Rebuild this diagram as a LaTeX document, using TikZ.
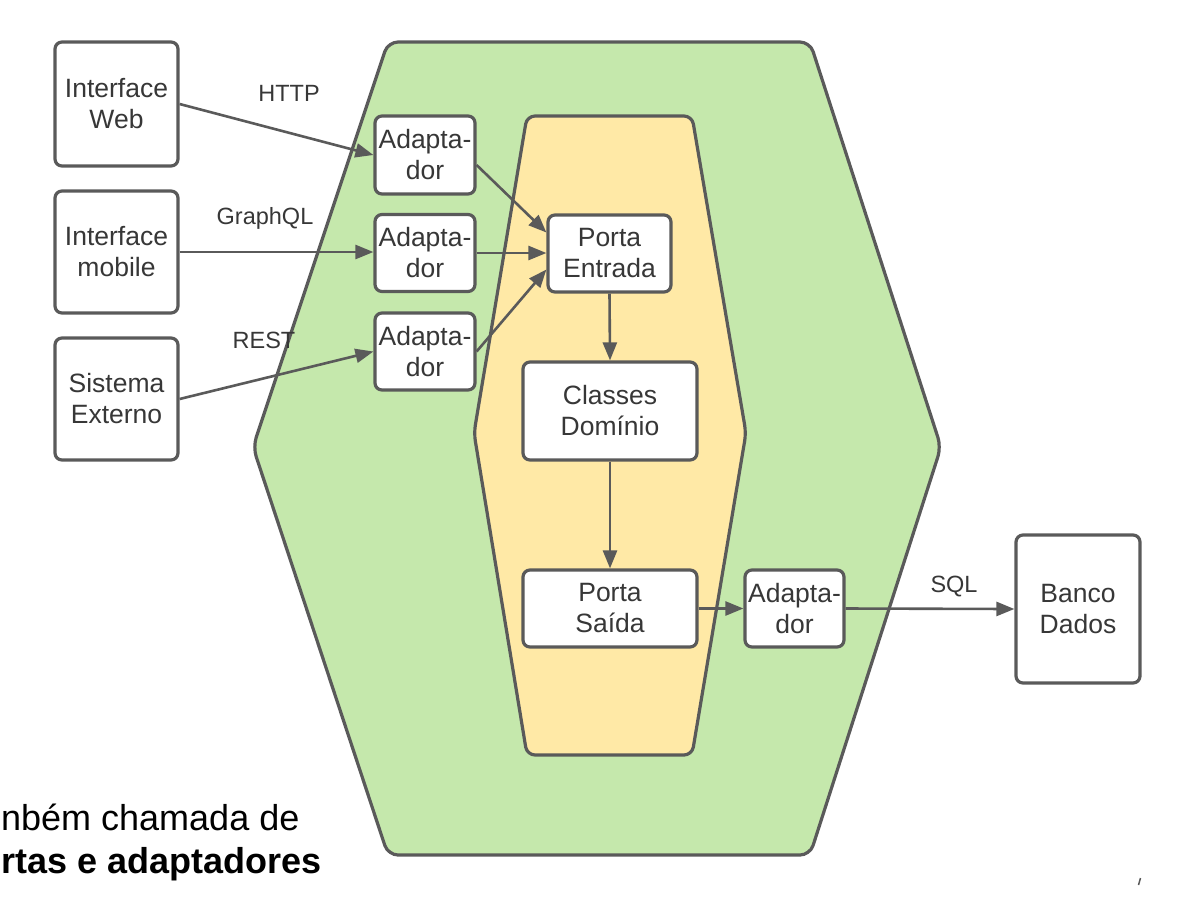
\documentclass[tikz,border=0pt]{standalone}
\usepackage{fontspec}
\setmainfont{Liberation Sans}
\usetikzlibrary{arrows.meta}
\definecolor{linec}{RGB}{90,90,90}
\definecolor{txtc}{RGB}{55,55,55}
\definecolor{greenf}{RGB}{197,232,172}
\definecolor{yellowf}{RGB}{255,233,166}
\begin{document}
\begin{tikzpicture}[x=1pt,y=-1pt,
  box/.style={draw=linec, line width=3.2pt, rounded corners=7pt, fill=white,
    align=center, text=txtc, inner sep=0pt,
    font=\fontsize{26.5}{31}\selectfont},
  conn/.style={draw=linec, line width=2.6pt,
    -{Triangle[length=18pt,width=14pt]}},
  lbl/.style={text=txtc, inner sep=0pt, font=\fontsize{23.5}{26}\selectfont},
  hexa/.style={draw=linec, line width=3.2pt, rounded corners=10pt}]
\useasboundingbox (0,0) rectangle (1177,911);

% outer (green) hexagon
\draw[hexa, fill=greenf] (388,42) -- (810,42) -- (941,447) -- (810,855)
  -- (388,855) -- (253,447) -- cycle;
% inner (yellow) hexagon
\draw[hexa, fill=yellowf, rounded corners=8pt] (527,116) -- (692,116) -- (746,433)
  -- (692,755) -- (527,755) -- (474,433) -- cycle;

% external systems
\node[box, minimum width=123pt, minimum height=124pt] (web) at (116.5,104) {Interface\\Web};
\node[box, minimum width=123pt, minimum height=122pt] (mob) at (116.5,252) {Interface\\mobile};
\node[box, minimum width=123pt, minimum height=122pt] (sys) at (116.5,399) {Sistema\\Externo};

% input adapters
\node[box, minimum width=100pt, minimum height=78pt] (ad1) at (425,155) {Adapta-\\dor};
\node[box, minimum width=100pt, minimum height=77pt] (ad2) at (425,253) {Adapta-\\dor};
\node[box, minimum width=100pt, minimum height=77pt] (ad3) at (425,351.5) {Adapta-\\dor};

% core
\node[box, minimum width=123pt, minimum height=77pt] (pe) at (609.5,253.5) {Porta\\Entrada};
\node[box, minimum width=174pt, minimum height=98pt] (cd) at (610,411) {Classes\\Domínio};
\node[box, minimum width=174pt, minimum height=77pt] (ps) at (610,608.5) {Porta\\Saída};

% output adapter and database
\node[box, minimum width=99pt, minimum height=77pt] (ad4) at (794.5,608.5) {Adapta-\\dor};
\node[box, minimum width=124pt, minimum height=148pt] (db) at (1078,609) {Banco\\Dados};

% protocol labels
\node[lbl] (lhttp) at (289,93) {HTTP};
\node[lbl] (lgql) at (265,218) {GraphQL};
\node[lbl] (lrest) at (264,340) {REST};
\node[lbl] (lsql) at (954,587) {SQL};

% connectors
\draw[conn] (web.east) -- (ad1.west);
\draw[conn] (mob.east) -- (mob.east -| ad2.west);
\draw[conn] (sys.east) -- (ad3.west);
\draw[conn] ([yshift=-10pt]ad1.east) -- ([yshift=21pt]pe.west);
\draw[conn] (ad2.east) -- (ad2.east -| pe.west);
\draw[conn] (ad3.east) -- ([yshift=-16pt]pe.west);
\draw[conn] (pe.south) -- (cd.north);
\draw[conn] (cd.south) -- (ps.north);
\draw[conn] (ps.east) -- (ad4.west);
\draw[conn] (ad4.east) -- (db.west);

% caption fragment
\node[anchor=base west, inner sep=0pt, font=\fontsize{36}{40}\selectfont] (cap1) at (1,830) {nbém chamada de};
\node[anchor=base west, inner sep=0pt, font=\fontsize{36}{40}\selectfont\bfseries] (cap2) at (1,873) {rtas e adaptadores};

% small mark
\draw[linec, line width=1.5pt] (1140.5,878) -- (1138.5,885);
\end{tikzpicture}
\end{document}
